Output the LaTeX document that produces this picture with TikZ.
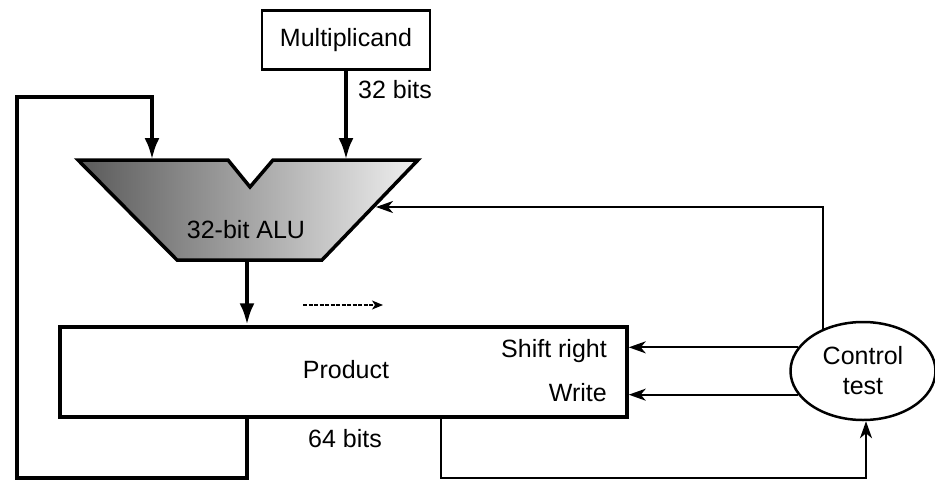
\documentclass[tikz,border=0pt]{standalone}
\usepackage{fontspec}
\setmainfont{Liberation Sans}
\usetikzlibrary{arrows.meta,shapes.geometric,calc}
\begin{document}
\begin{tikzpicture}[x=1pt,y=-1pt,
  lbl/.style={font=\fontsize{25}{28}\selectfont, inner sep=0pt},
  bigarrow/.style={line width=4.5pt, -{Latex[length=22pt,width=15pt]}},
  ctlarrow/.style={line width=2pt, -{Stealth[length=17pt,width=12pt,inset=5pt]}},
  pathline/.style={line width=4.5pt, line join=miter},
  regbox/.style={draw, line width=3.5pt, inner sep=0pt},
  multbox/.style={draw, line width=2.5pt, inner sep=0pt, minimum width=168pt, minimum height=59pt, font=\fontsize{25}{28}\selectfont},
  ctlell/.style={draw, ellipse, line width=2.5pt, inner sep=0pt, minimum width=145pt, minimum height=98pt, align=center, font=\fontsize{25}{30}\selectfont}
]
\useasboundingbox (0,0) rectangle (935,482);

% Multiplicand register
\node[multbox] (mult) at (346,40) {Multiplicand};
\node[lbl, anchor=west] (w32) at (358,90) {32 bits};

% ALU
\shade[left color=black!65, middle color=black!35, right color=black!6]
  (78,160) -- (228,160) -- (250,187) -- (273,160) -- (418,160) -- (322,260) -- (177,260) -- cycle;
\draw[line width=3.5pt, line join=miter]
  (78,160) -- (228,160) -- (250,187) -- (273,160) -- (418,160) -- (322,260) -- (177,260) -- cycle;
\node[lbl] (alu) at (246,230) {32-bit ALU};
\coordinate (alu-a) at (152,160);
\coordinate (alu-b) at (346,160);
\coordinate (alu-c) at (376,207);
\coordinate (alu-out) at (247,260);

% Product register
\node[regbox, minimum width=567pt, minimum height=90pt] (prod) at (343.5,372) {};
\node[lbl] (prodtxt) at (346,370) {Product};
\node[lbl, anchor=east] (shr) at (607,351) {Shift right};
\node[lbl, anchor=east] (wr) at (607,393) {Write};
\node[lbl] (w64) at (345,439) {64 bits};
\coordinate (pout1) at (247,417);
\coordinate (pout2) at (441,417);

% shift indicator
\coordinate (sh1) at (303,305);
\coordinate (sh2) at (383,305);
\draw[dash pattern=on 4pt off 1.5pt, line width=1.5pt, -{Stealth[length=11pt,width=9pt,inset=3pt]}] (sh1) -- (sh2);

% Control
\node[ctlell] (ctl) at (863,371) {Control\\test};

% Connectors
\draw[bigarrow] (mult.south) -- (alu-b);
\draw[bigarrow] (alu-out) -- (pout1 |- prod.north);
\coordinate (lb) at (17,478);
\coordinate (lt) at (17,97);
\draw[pathline] (pout1) |- (lb) -- (lt) -| ($(alu-a)+(0,-20)$);
\draw[bigarrow] ($(alu-a)+(0,-22)$) -- (alu-a);

\draw[ctlarrow] (ctl.133) |- (alu-c);
\draw[ctlarrow] (ctl.160) -- (ctl.160 -| prod.east);
\draw[ctlarrow] (ctl.200) -- (ctl.200 -| prod.east);
\coordinate (rb) at (441,478);
\draw[line width=2.5pt] (pout2) -- (rb) -| ($(ctl.south)+(3,16)$);
\draw[ctlarrow] ($(ctl.south)+(3,18)$) -- ($(ctl.south)+(3,0)$);
\end{tikzpicture}
\end{document}
